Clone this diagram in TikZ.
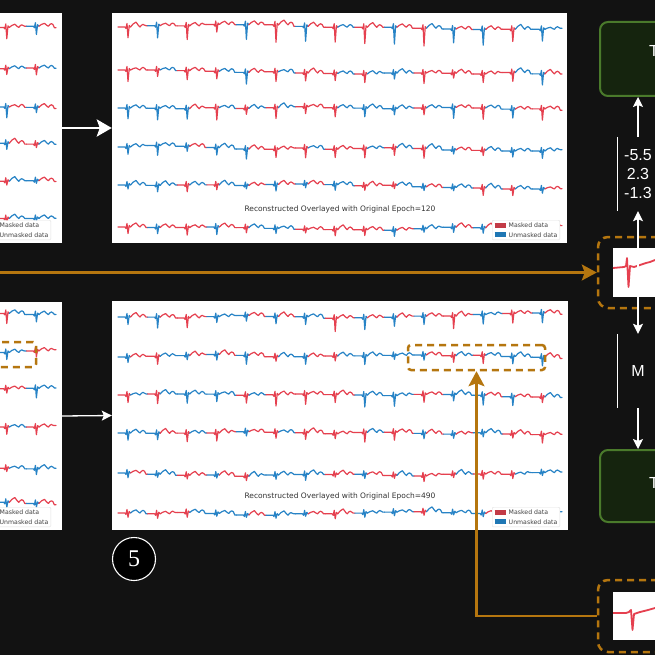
\documentclass[tikz,border=0pt]{standalone}
\usepackage{fontspec}
\usepackage{tikz}
\usetikzlibrary{positioning, arrows.meta}

\newfontfamily\mplfont{DejaVu Sans}
\newfontfamily\arialfont{Liberation Sans}
\newfontfamily\timesfont{Liberation Serif}

\definecolor{bgdark}{HTML}{121212}
\definecolor{ecgred}{HTML}{E5404F}
\definecolor{ecgblue}{HTML}{2783C6}
\definecolor{legred}{HTML}{C23B47}
\definecolor{legblue}{HTML}{1F77B4}
\definecolor{ogold}{HTML}{B5760F}
\definecolor{gfill}{HTML}{15240E}
\definecolor{gline}{HTML}{4A7A2B}

\tikzset{
    panel/.style={fill=white, inner sep=0pt},
    trace/.style={line width=1.2pt, line join=round, line cap=round},
    snipline/.style={draw=ecgred, line width=1.8pt, line join=round},
    legendbox/.style={draw=black!12, fill=white, rounded corners=1pt, inner sep=2.5pt, align=left, text=black!75, font=\mplfont\fontsize{6.2}{9.5}\selectfont},
    plottitle/.style={text=black!80, font=\mplfont\fontsize{7.5}{8.5}\selectfont},
    warrow/.style={draw=white, line width=1.3pt, -{Stealth[length=10pt, width=10pt, inset=2pt]}},
    warrowthick/.style={draw=white, line width=2.8pt, -{Stealth[length=15pt, width=17pt, inset=3pt]}},
    oarrow/.style={draw=ogold, line width=2.5pt, -{Stealth[length=15pt, width=16pt, inset=3pt]}},
    odash/.style={draw=ogold, line width=2.5pt, dash pattern=on 7pt off 5pt},
    gbox/.style={draw=gline, fill=gfill, line width=2pt, rounded corners=8pt},
    bigtext/.style={text=white, inner sep=0pt, font=\arialfont\fontsize{16}{19}\selectfont},
}

\newcommand{\legendrows}{\textcolor{legred}{\rule[-0.3pt]{11pt}{5pt}}\hspace{3pt}Masked data\\\textcolor{legblue}{\rule[-0.3pt]{11pt}{5pt}}\hspace{3pt}Unmasked data}

\newcommand{\ecgrow}[5]{%
    \pgfmathsetseed{#5}%
    \gdef\ecgy{0}%
    \foreach \k in {1,...,#3} {%
        \pgfmathsetmacro{\ebx}{#1+29.6*(\k-1)}%
        \pgfmathsetmacro{\eya}{#2+(\ecgy)}%
        \pgfmathsetmacro{\enext}{max(-4,min(4,(\ecgy)+3.2*(rnd-0.5)))}%
        \xdef\ecgy{\enext}%
        \pgfmathsetmacro{\eyb}{#2+(\ecgy)}%
        \pgfmathsetmacro{\esp}{#4*(0.4+0.6*rnd)}%
        \pgfmathsetmacro{\etw}{2+3*rnd}%
        \pgfmathrandominteger{\eca}{0}{1}%
        \pgfmathrandominteger{\ecb}{0}{1}%
        \ifnum\eca=1 \def\ecola{ecgred}\else\def\ecola{ecgblue}\fi
        \ifnum\ecb=1 \def\ecolb{ecgred}\else\def\ecolb{ecgblue}\fi
        \draw[trace, color=\ecola] (\ebx,\eya) -- (\ebx+7,\eya) -- (\ebx+8,\eya+1.5) -- (\ebx+9,\eya-3.5) -- (\ebx+10,\eya+\esp) -- (\ebx+11.2,\eya-1.5) -- (\ebx+12.5,\eya);
        \draw[trace, color=\ecolb] (\ebx+12.5,\eya) -- (\ebx+15,\eya-0.6*\etw) -- (\ebx+18,\eya-\etw) -- (\ebx+20.5,\eya-0.3*\etw) -- (\ebx+22,\eya) -- (\ebx+23.5,\eya-1.8) -- (\ebx+25,\eya-2.6) -- (\ebx+26.5,\eya-1.8) -- (\ebx+28,\eyb) -- (\ebx+29.6,\eyb);
    }%
}

\begin{document}
\begin{tikzpicture}[x=1pt, y=-1pt]
            \clip (0,0) rectangle (655,655);
            \fill[bgdark] (0,0) rectangle (655,655);

            \node[panel, minimum width=462pt, minimum height=230pt] (plotAL) at (-169,128) {};
            \node[panel, minimum width=455pt, minimum height=230pt] (plotA) at (339.5,128) {};
            \node[panel, minimum width=462pt, minimum height=228pt] (plotBL) at (-169,416) {};
            \node[panel, minimum width=456pt, minimum height=229pt] (plotB) at (340,415.5) {};

            \foreach \ry/\rs/\rd in {28/101/12, 68/103/10, 107/107/12, 142/109/8, 182/111/6, 218/113/5}
                {\ecgrow{-32.8}{\ry}{3}{\rd}{\rs}}
            \foreach \ry/\rs/\rd in {27/3/18, 70/5/12, 108/8/14, 147/13/10, 185/21/8, 227/34/8}
                {\ecgrow{118}{\ry}{15}{\rd}{\rs}}
            \foreach \ry/\rs/\rd in {312/201/12, 353/203/10, 390/207/10, 427/209/8, 467/211/6, 503/213/5}
                {\ecgrow{-32.8}{\ry}{3}{\rd}{\rs}}
            \foreach \ry/\rs/\rd in {317/41/14, 357/55/10, 395/62/12, 433/77/10, 473/86/6, 513/93/5}
                {\ecgrow{118}{\ry}{15}{\rd}{\rs}}

            \node[plottitle] (titleA) at (340,209) {Reconstructed Overlayed with Original Epoch=120};
            \node[plottitle] (titleB) at (340,496) {Reconstructed Overlayed with Original Epoch=490};
            \node[legendbox, anchor=south east] (legAL) at (51,240) {\legendrows};
            \node[legendbox, anchor=south east] (legA) at (560,240) {\legendrows};
            \node[legendbox, anchor=south east] (legBL) at (51,527) {\legendrows};
            \node[legendbox, anchor=south east] (legB) at (560,527) {\legendrows};

            \draw[warrowthick] (plotAL.east) -- (plotA.west);
            \draw[warrow] (plotBL.east) -- (plotB.west);

            \node[odash, rounded corners=3pt, minimum width=50pt, minimum height=25pt] (focusBL) at (11,354.5) {};
            \node[odash, rounded corners=3pt, minimum width=137pt, minimum height=25pt] (focusB) at (476.5,357.5) {};

            \node[gbox, minimum width=120pt, minimum height=74pt] (encA) at (660,59) {};
            \node[gbox, minimum width=120pt, minimum height=72pt] (encB) at (660,486) {};
            \node[bigtext, anchor=base west] (encAtxt) at (649,56.5) {T};
            \node[bigtext, anchor=base west] (encBtxt) at (649,488.5) {T};

            \node[odash, rounded corners=10pt, minimum width=130pt, minimum height=71pt] (maskA) at (663,272.5) {};
            \node[panel, minimum width=90pt, minimum height=49pt] (snipA) at (658,272.5) {};
            \draw[snipline] (613,268) -- (624,267) -- (626,266) -- (627,258) -- (628.5,287) -- (630,266) -- (634,267) -- (640,265) -- (646,263) -- (650,262) -- (655,260);
            \node[odash, rounded corners=10pt, minimum width=130pt, minimum height=72pt] (maskB) at (663,616) {};
            \node[panel, minimum width=90pt, minimum height=48pt] (snipB) at (658,616) {};
            \draw[snipline] (613,613) -- (626,613) -- (629,612) -- (631,610) -- (632.5,630) -- (634,614) -- (640,612) -- (648,610) -- (655,608);

            \coordinate (feedA) at (-5,272.5);
            \draw[oarrow] (feedA) -- (maskA.west);
            \draw[oarrow] (maskB.west) -| (focusB.south);

            \coordinate (colA) at (638,0);
            \node[bigtext, align=center, minimum width=40pt, minimum height=74pt] (vals) at (638,174) {-5.5\\2.3\\-1.3};
            \node[bigtext, minimum width=40pt, minimum height=74pt] (mlab) at (638,371) {M};
            \draw[white, line width=1.2pt] (vals.north west) -- (vals.south west);
            \draw[white, line width=1.2pt] (mlab.north west) -- (mlab.south west);
            \draw[warrow] (colA |- snipA.center) -- (vals.south);
            \draw[warrow] (vals.north) -- (colA |- encA.south);
            \draw[warrow] (colA |- snipA.center) -- (mlab.north);
            \draw[warrow] (mlab.south) -- (colA |- encB.north);

            \node[circle, draw=white, fill=black, line width=1.1pt, minimum size=43pt, inner sep=0pt, text=white, font=\timesfont\fontsize{24}{24}\selectfont] (step5) at (134,559) {5};
\end{tikzpicture}
\end{document}
